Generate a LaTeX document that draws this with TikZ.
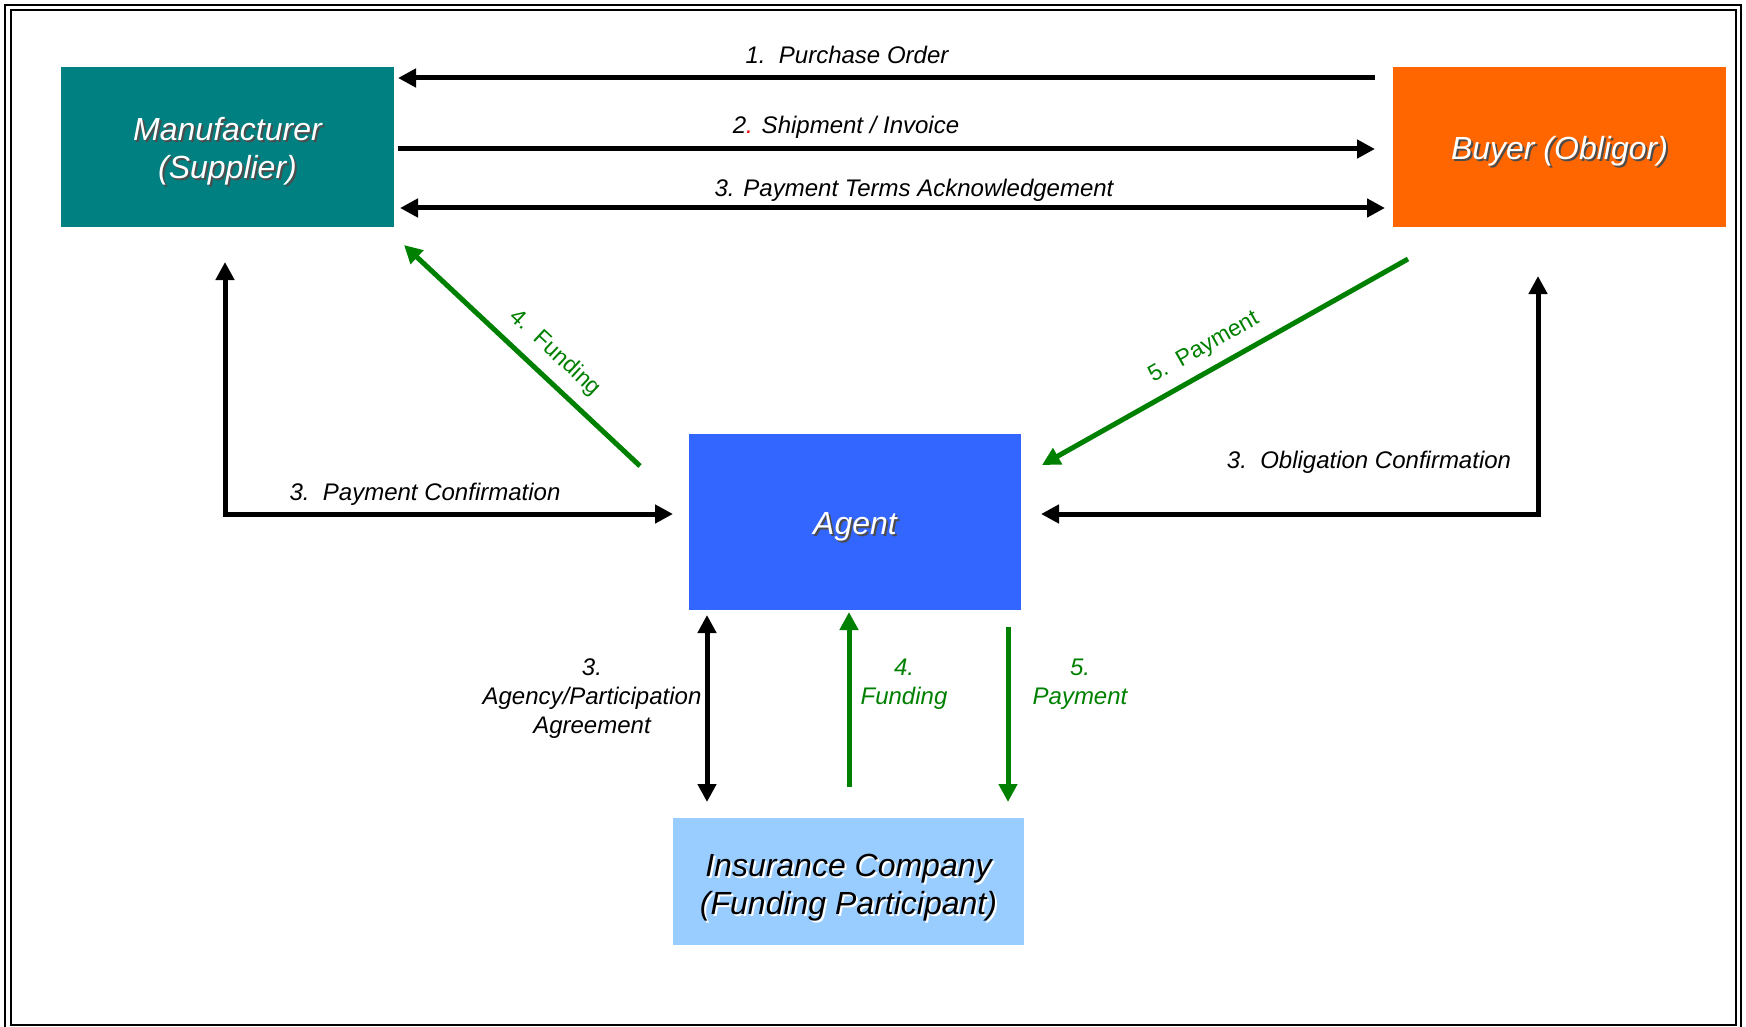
\documentclass[tikz,border=0pt]{standalone}
\usepackage{fontspec}
\setmainfont{Liberation Sans}
\usepackage{tikz}
\usepackage{xcolor}
\usetikzlibrary{positioning, arrows.meta}

\definecolor{mancol}{HTML}{008080}
\definecolor{buycol}{HTML}{FF6600}
\definecolor{agentcol}{HTML}{3366FF}
\definecolor{inscol}{HTML}{99CCFF}
\definecolor{flowgreen}{HTML}{008000}

\newcommand{\shadowed}[2]{\leavevmode\rlap{\hspace{2pt}\raisebox{-2pt}{\textcolor{#2}{#1}}}#1}

\tikzset{
    party/.style={minimum width=333pt, minimum height=160pt, inner sep=0pt, outer sep=0pt},
    partytext/.style={inner sep=0pt, align=center, text=white, yshift=-5.5pt,
        font=\fontsize{32}{38}\selectfont\itshape},
    flow/.style={line width=5pt, >={Triangle[length=18pt, width=18pt]}},
    gflow/.style={flow, draw=flowgreen},
    lbl/.style={inner sep=0pt, align=center, font=\fontsize{24}{29}\selectfont\itshape},
    glbl/.style={lbl, text=flowgreen},
    diag/.style={inner sep=0pt, text=flowgreen, font=\fontsize{23}{29}\selectfont}
}

\begin{document}
\begin{tikzpicture}[x=1pt, y=-1pt]
                \useasboundingbox (0,0) rectangle (1746,1027);
                \draw[line width=2.5pt] (5,5) rectangle (1741,1031);
                \draw[line width=2pt] (10.5,10.5) rectangle (1735.5,1025);

                \node [party, fill=mancol, label={[partytext, name=mantext]center:{\shadowed{Manufacturer}{black!70}\\\shadowed{(Supplier)}{black!70}}}] (man) at (227.5,147) {};
                \node [party, fill=buycol, label={[partytext, name=buytext]center:{\shadowed{Buyer (Obligor)}{black!70}}}] (buy) at (1559.5,147) {};
                \node [party, fill=agentcol, minimum width=332pt, minimum height=176pt,
                    label={[partytext, name=agenttext]center:{\shadowed{Agent}{black!70}}}] (agent) at (855,522) {};
                \node [party, fill=inscol, minimum width=351pt, minimum height=127pt,
                    label={[partytext, name=institle, text=black, yshift=-1.5pt]center:{\shadowed{Insurance Company}{white}\\\shadowed{(Funding Participant)}{white}}}] (ins) at (848.5,881.5) {};

                \draw[flow, <-] ([shift={(4,11)}]man.north east) -- ([shift={(-18,11)}]buy.north west);
                \draw[flow, ->] ([shift={(4,82)}]man.north east) -- ([shift={(-18,82)}]buy.north west);
                \draw[flow, <->] ([shift={(6,-19)}]man.south east) -- ([shift={(-8,-19)}]buy.south west);
                \draw[flow, <->] ([shift={(-2.5,35)}]man.south) |- ([shift={(-16,-8)}]agent.west);
                \draw[flow, <->] ([shift={(20,-8)}]agent.east) -| ([shift={(-21.5,49)}]buy.south);
                \draw[gflow, ->] ([shift={(-49,32)}]agent.north west) -- ([shift={(10,18)}]man.south east);
                \draw[gflow, ->] ([shift={(15,32)}]buy.south west) -- ([shift={(21,31)}]agent.north east);
                \draw[flow, <->] ([shift={(18,5)}]agent.south west) -- ([shift={(34,-16)}]ins.north west);
                \draw[gflow, ->] ([shift={(0.5,-31)}]ins.north) -- ([shift={(-6,2)}]agent.south);
                \draw[gflow, ->] ([shift={(-13,17)}]agent.south east) -- ([shift={(-16,-16)}]ins.north east);

                \node [lbl] (order) at (847,54.5) {1.\ \ Purchase Order};
                \node [lbl] (ship) at (846,127) {2{\color{red}.} Shipment / Invoice};
                \node [lbl] (terms) at (914,190) {3. Payment Terms Acknowledgement};
                \node [lbl] (payconf) at (425,494) {3.\ \ Payment Confirmation};
                \node [lbl] (oblconf) at (1369,462.5) {3.\ \ Obligation Confirmation};
                \node [diag, rotate=-43] (fundd) at (555,353) {4.\ \ Funding};
                \node [diag, rotate=29.4] (payd) at (1204,348) {5.\ \ Payment};
                \node [lbl] (agree) at (592,699) {3.\\Agency/Participation\\Agreement};
                \node [glbl] (fundv) at (904,684.5) {4.\\Funding};
                \node [glbl] (payv) at (1080,684.5) {5.\\Payment};
            \end{tikzpicture}
\end{document}
